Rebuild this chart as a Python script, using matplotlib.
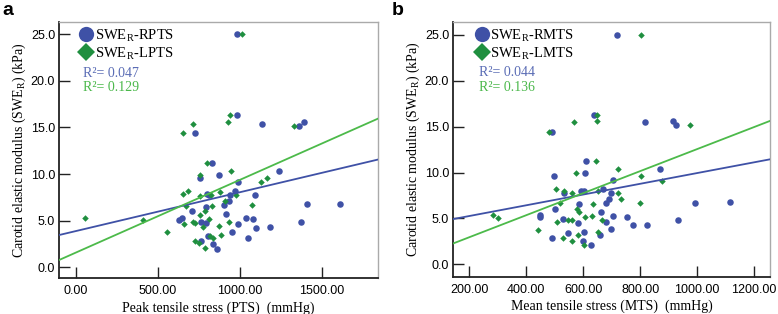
import numpy as np
import matplotlib
matplotlib.use('Agg')
import matplotlib.pyplot as plt
from matplotlib.lines import Line2D

plt.rcParams['font.family'] = ['Liberation Sans', 'DejaVu Sans']
plt.rcParams['mathtext.fontset'] = 'custom'
plt.rcParams['mathtext.rm'] = 'Liberation Serif'

BLUE = '#3f51a6'
GREEN = '#1f8f3f'
GREEN_LINE = '#4cba4a'
BLUE_TXT = '#5a6cb5'
GREEN_TXT = '#4bb84b'
SERIF = 'Liberation Serif'

# ---- panel a : peak tensile stress ----
pts_r = [980, 984, 724, 1136, 1362, 1390, 829, 1238, 870, 757, 986, 970, 939, 1094,
         801, 812, 931, 904, 793, 1409, 1610, 707, 915, 1037, 1077, 626, 646, 760,
         793, 988, 1370, 1096, 1183, 953, 1047, 760, 805, 837, 858]
swe_r_a = [25.0, 16.3, 14.4, 15.4, 15.2, 15.6, 11.2, 10.35, 9.9, 9.6, 9.1, 8.2, 7.8, 7.8,
           7.9, 7.7, 7.1, 6.7, 6.5, 6.75, 6.8, 6.0, 5.7, 5.25, 5.2, 5.07, 5.3, 4.86,
           4.8, 4.6, 4.85, 4.25, 4.3, 3.8, 3.1, 2.86, 3.4, 2.5, 2.0]
pts_l = [1012, 939, 927, 711, 654, 1331, 797, 943, 756, 1163, 1126, 683, 654, 878,
         976, 823, 756, 911, 1075, 829, 671, 785, 756, 813, 715, 728, 935, 659,
         772, 870, 882, 817, 837, 553, 411, 57, 724, 748, 789]
swe_l_a = [25.0, 16.3, 15.6, 15.4, 14.4, 15.2, 11.2, 10.36, 9.9, 9.57, 9.1, 8.2, 7.9, 8.07,
           7.8, 7.8, 7.6, 7.1, 6.7, 6.6, 6.6, 6.0, 5.6, 5.2, 4.9, 4.8, 4.86, 4.6,
           4.3, 4.46, 3.5, 3.36, 3.18, 3.8, 5.07, 5.3, 2.86, 2.57, 2.07]

# ---- panel b : mean tensile stress ----
mts_r = [720, 638, 817, 915, 925, 490, 611, 868, 497, 606, 704, 671, 699, 532,
         593, 604, 692, 681, 585, 994, 1114, 500, 664, 704, 755, 448, 450, 529,
         582, 681, 934, 774, 823, 699, 659, 492, 546, 600, 628, 602]
swe_r_b = [25.0, 16.3, 15.45, 15.63, 15.2, 14.43, 11.27, 10.4, 9.6, 9.9, 9.15, 8.23, 7.8, 7.72,
           7.94, 8.0, 7.14, 6.7, 6.56, 6.7, 6.77, 5.98, 5.69, 5.26, 5.2, 5.18, 5.33, 4.9,
           4.53, 4.6, 4.82, 4.24, 4.3, 3.8, 3.15, 2.86, 3.44, 2.57, 2.07, 3.51]
mts_l = [802, 647, 647, 566, 976, 481, 644, 723, 574, 804, 877, 505, 532, 651,
         723, 559, 734, 800, 518, 634, 579, 586, 608, 632, 508, 546, 559, 666,
         440, 651, 529, 562, 582, 602, 283, 302]
swe_l_b = [25.0, 16.3, 15.63, 15.45, 15.2, 14.43, 11.27, 10.4, 9.9, 9.6, 9.1, 8.23, 7.94, 8.0,
           7.8, 7.72, 7.14, 6.7, 6.7, 6.56, 5.98, 5.69, 5.18, 5.25, 4.64, 4.82, 4.82, 4.82,
           3.73, 3.51, 2.86, 2.57, 3.15, 2.07, 5.33, 5.08]

# fit lines (intercept, slope)
fit_a_r = (3.88, 0.00417)
fit_a_l = (1.57, 0.00781)
fit_b_r = (4.09, 0.00585)
fit_b_l = (0.55, 0.0120)

r2_a = ['R\u00b2= 0.047', 'R\u00b2= 0.129']
r2_b = ['R\u00b2= 0.044', 'R\u00b2= 0.136']

yticks = [0, 5, 10, 15, 20, 25]


def panel(ax, xr, yr, xl, yl, fr, fl, xlim, ylim, xticks, xlabel, names, r2, r2x, legx):
    ax.set_xlim(xlim)
    ax.set_ylim(ylim)
    ax.scatter(xr, yr, s=22, marker='o', color=BLUE, linewidths=0, zorder=3)
    ax.scatter(xl, yl, s=11, marker='D', color=GREEN, linewidths=0, zorder=3)
    xs = np.array(xlim)
    ax.plot(xs, fr[0] + fr[1] * xs, color=BLUE, lw=1.3, zorder=4)
    ax.plot(xs, fl[0] + fl[1] * xs, color=GREEN_LINE, lw=1.3, zorder=4)

    ax.set_xticks(xticks)
    ax.set_xticklabels(['%.2f' % v for v in xticks])
    ax.set_yticks(yticks)
    ax.set_yticklabels(['%.1f' % v for v in yticks])
    ax.tick_params(direction='in', length=8, width=1, labelsize=9, color='#222222')
    ax.tick_params(axis='x', pad=5)
    ax.tick_params(axis='y', pad=3)
    for s in ['left', 'bottom']:
        ax.spines[s].set_color('#222222')
        ax.spines[s].set_linewidth(1.3)
    for s in ['top', 'right']:
        ax.spines[s].set_color('#aaaaaa')
        ax.spines[s].set_linewidth(1.0)

    ax.set_xlabel(xlabel, family=SERIF, fontsize=10, labelpad=3)
    ax.set_ylabel('Carotid elastic modulus (SWE$_{\\mathregular{R}}$) (kPa)',
                  family=SERIF, fontsize=10, labelpad=2)

    handles = [Line2D([], [], ls='', marker='o', ms=11, color=BLUE, mew=0),
               Line2D([], [], ls='', marker='D', ms=9, color=GREEN, mew=0)]
    ax.legend(handles, names, loc='upper left', bbox_to_anchor=(legx, 1.0),
              frameon=False, handlelength=1.0, handletextpad=0.1, labelspacing=0.12,
              borderaxespad=0.15, borderpad=0.2, prop={'family': SERIF, 'size': 10.5})
    ax.text(r2x, 0.80, r2[0], transform=ax.transAxes, color=BLUE_TXT,
            family=SERIF, fontsize=10, va='center')
    ax.text(r2x, 0.743, r2[1], transform=ax.transAxes, color=GREEN_TXT,
            family=SERIF, fontsize=10, va='center')


fig = plt.figure(figsize=(7.78, 3.14), dpi=100)
ax1 = fig.add_axes([0.0762, 0.1146, 0.4097, 0.8154])
ax2 = fig.add_axes([0.5827, 0.1188, 0.4070, 0.8112])

panel(ax1, pts_r, swe_r_a, pts_l, swe_l_a, fit_a_r, fit_a_l,
      (-100, 1840), (-1.15, 26.3), [0, 500, 1000, 1500],
      'Peak tensile stress (PTS)  (mmHg)',
      ['SWE$_{\\mathregular{R}}$-RPTS', 'SWE$_{\\mathregular{R}}$-LPTS'], r2_a, 0.073, 0.045)
panel(ax2, mts_r, swe_r_b, mts_l, swe_l_b, fit_b_r, fit_b_l,
      (144, 1256), (-1.35, 26.4), [200, 400, 600, 800, 1000, 1200],
      'Mean tensile stress (MTS)  (mmHg)',
      ['SWE$_{\\mathregular{R}}$-RMTS', 'SWE$_{\\mathregular{R}}$-LMTS'], r2_b, 0.082, 0.05)

fig.text(0.003, 0.995, 'a', fontsize=14, fontweight='bold', va='top', ha='left')
fig.text(0.503, 0.995, 'b', fontsize=14, fontweight='bold', va='top', ha='left')

fig.savefig('out.png', dpi=100)
